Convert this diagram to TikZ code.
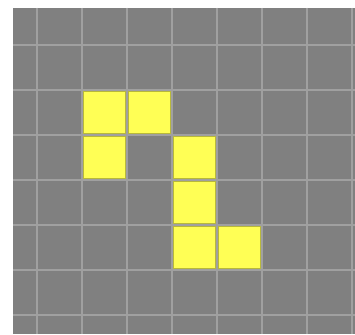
\documentclass[tikz,border=0pt]{standalone}
\definecolor{bg}{HTML}{808080}
\definecolor{gridline}{HTML}{A0A0A0}
\definecolor{cellfill}{HTML}{FFFF55}
\definecolor{celledge}{HTML}{B8B83A}
\tikzset{
  gridln/.style={draw=gridline, line width=2pt},
  live/.style={fill=cellfill, draw=celledge, line width=0.8pt}
}
\begin{document}
\begin{tikzpicture}[x=1pt,y=-1pt]
\useasboundingbox (0,0) rectangle (355,334);
\fill[white] (0,0) rectangle (355,334);
\fill[bg] (13,8) rectangle (355,334);
\foreach \x in {37,82,...,352} \draw[gridln] (\x,8) -- (\x,334);
\foreach \y in {45,90,...,315} \draw[gridln] (13,\y) -- (355,\y);
\foreach \cx/\cy in {82/90,127/90,82/135,172/135,172/180,172/225,217/225}
  \draw[live] (\cx+1.6,\cy+1.6) rectangle (\cx+43.4,\cy+43.4);
\end{tikzpicture}
\end{document}
